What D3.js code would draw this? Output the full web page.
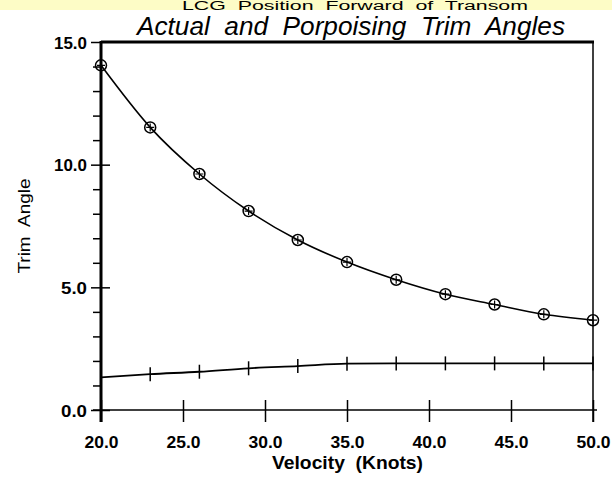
<!DOCTYPE html>
<html>
<head>
<meta charset="utf-8">
<script src="https://cdn.jsdelivr.net/npm/d3@7"></script>
<style>
  body { margin: 0; background: #fff; }
  svg text { font-family: "Liberation Sans", Arial, sans-serif; fill: #000; white-space: pre; }
  .tick-lbl { font-size: 17px; font-weight: bold; }
</style>
</head>
<body>
<div id="chart"></div>
<script>
// chart data
const velocity = [20, 23, 26, 29, 32, 35, 38, 41, 44, 47, 50];
const actualTrim = [14.05, 11.52, 9.62, 8.11, 6.93, 6.03, 5.31, 4.72, 4.30, 3.90, 3.66];
const porpoiseTrim = [1.33, 1.46, 1.56, 1.70, 1.79, 1.89, 1.90, 1.90, 1.90, 1.90, 1.90];
const xTicks = [20, 25, 30, 35, 40, 45, 50];
const yMajor = [0, 5, 10, 15];
const yMinor = [1, 2, 3, 4, 6, 7, 8, 9, 11, 12, 13, 14];

const W = 612, H = 483;
const plotL = 101, plotR = 593, plotT = 42, plotB = 410;

const svg = d3.select('#chart').append('svg')
  .attr('width', W)
  .attr('height', H);

// yellow strip at the top
svg.append('rect')
  .attr('x', 0).attr('y', 0)
  .attr('width', W).attr('height', 10)
  .attr('fill', '#fdfcc6');

svg.append('text')
  .attr('x', 182).attr('y', 9.5)
  .attr('textLength', 346)
  .attr('lengthAdjust', 'spacingAndGlyphs')
  .style('font-size', '12px')
  .text('LCG  Position  Forward  of  Transom');

svg.append('text')
  .attr('x', 137).attr('y', 35)
  .attr('textLength', 428)
  .attr('lengthAdjust', 'spacingAndGlyphs')
  .style('font-size', '25px')
  .style('font-style', 'italic')
  .text('Actual  and  Porpoising  Trim  Angles');

let x = d3.scaleLinear().domain([20, 50]).range([plotL, plotR]);
let y = d3.scaleLinear().domain([0, 15]).range([plotB, plotT]);

// frame: top and right
svg.append('line')
  .attr('x1', plotL).attr('x2', plotR + 1)
  .attr('y1', plotT).attr('y2', plotT)
  .attr('stroke', '#000').attr('stroke-width', 3);
svg.append('line')
  .attr('x1', plotR).attr('x2', plotR)
  .attr('y1', plotT).attr('y2', 422)
  .attr('stroke', '#000').attr('stroke-width', 1.5);

// y axis: minor ticks outward, major ticks crossing
let yAxisG = svg.append('g');
yAxisG.append('g')
  .attr('transform', 'translate(' + plotL + ',0)')
  .call(d3.axisLeft(y).tickValues(yMinor).tickSize(8).tickFormat(''));
yAxisG.append('g')
  .attr('transform', 'translate(' + plotL + ',0)')
  .call(d3.axisLeft(y).tickValues(yMajor).tickSize(10).tickPadding(4)
    .tickFormat(d3.format('.1f')));
yAxisG.append('g')
  .attr('transform', 'translate(' + plotL + ',0)')
  .call(d3.axisLeft(y).tickValues(yMajor.slice(0, 3)).tickSize(-9).tickFormat(''));
yAxisG.selectAll('.domain').remove();
yAxisG.selectAll('line').attr('stroke', '#000').attr('stroke-width', 1.5);
yAxisG.selectAll('text').attr('class', 'tick-lbl').attr('dy', '0.36em')
  .attr('textLength', function(d) { return d >= 10 ? 33 : 26; })
  .attr('lengthAdjust', 'spacingAndGlyphs');
svg.append('line')
  .attr('x1', plotL).attr('x2', plotL)
  .attr('y1', plotT - 1).attr('y2', 422)
  .attr('stroke', '#000').attr('stroke-width', 3);

// x axis: ticks crossing the line
let xAxisG = svg.append('g');
xAxisG.append('g')
  .attr('transform', 'translate(0,' + plotB + ')')
  .call(d3.axisBottom(x).tickValues(xTicks).tickSize(12).tickPadding(14)
    .tickFormat(d3.format('.1f')));
xAxisG.append('g')
  .attr('transform', 'translate(0,' + plotB + ')')
  .call(d3.axisBottom(x).tickValues(xTicks).tickSize(-10).tickFormat(''));
xAxisG.selectAll('.domain').remove();
xAxisG.selectAll('line').attr('stroke', '#000').attr('stroke-width', 1.5);
xAxisG.selectAll('text').attr('class', 'tick-lbl')
  .attr('textLength', 34)
  .attr('lengthAdjust', 'spacingAndGlyphs');
svg.append('line')
  .attr('x1', plotL - 8).attr('x2', plotR + 4)
  .attr('y1', plotB).attr('y2', plotB)
  .attr('stroke', '#000').attr('stroke-width', 1.5);

// axis titles
svg.append('text')
  .attr('transform', 'translate(30,226) rotate(-90)')
  .attr('text-anchor', 'middle')
  .attr('textLength', 95)
  .attr('lengthAdjust', 'spacingAndGlyphs')
  .style('font-size', '17px')
  .text('Trim  Angle');

svg.append('text')
  .attr('x', 272).attr('y', 469)
  .attr('textLength', 151)
  .attr('lengthAdjust', 'spacingAndGlyphs')
  .style('font-size', '19px')
  .style('font-weight', 'bold')
  .text('Velocity  (Knots)');

// series lines
let line = d3.line()
  .x(function(d, i) { return x(velocity[i]); })
  .y(function(d) { return y(d); })
  .curve(d3.curveMonotoneX);

svg.append('path')
  .datum(actualTrim)
  .attr('d', line)
  .attr('fill', 'none')
  .attr('stroke', '#000')
  .attr('stroke-width', 1.6);

svg.append('path')
  .datum(porpoiseTrim)
  .attr('d', line)
  .attr('fill', 'none')
  .attr('stroke', '#000')
  .attr('stroke-width', 1.8);

// circle markers on the actual trim curve
let circ = svg.append('g').selectAll('g')
  .data(actualTrim)
  .join('g')
  .attr('transform', function(d, i) {
    return 'translate(' + x(velocity[i]) + ',' + y(d) + ')';
  });
circ.append('circle')
  .attr('r', 5.5)
  .attr('fill', 'none')
  .attr('stroke', '#000')
  .attr('stroke-width', 1.5);
circ.append('path')
  .attr('d', 'M-4,0H4M0,-4V4')
  .attr('stroke', '#000')
  .attr('stroke-width', 1.2);

// vertical tick markers on the porpoising curve
svg.append('g').selectAll('line')
  .data(porpoiseTrim)
  .join('line')
  .attr('x1', function(d, i) { return x(velocity[i]); })
  .attr('x2', function(d, i) { return x(velocity[i]); })
  .attr('y1', function(d) { return y(d) - 7; })
  .attr('y2', function(d) { return y(d) + 7; })
  .attr('stroke', '#000')
  .attr('stroke-width', 1.5);
</script>
</body>
</html>
